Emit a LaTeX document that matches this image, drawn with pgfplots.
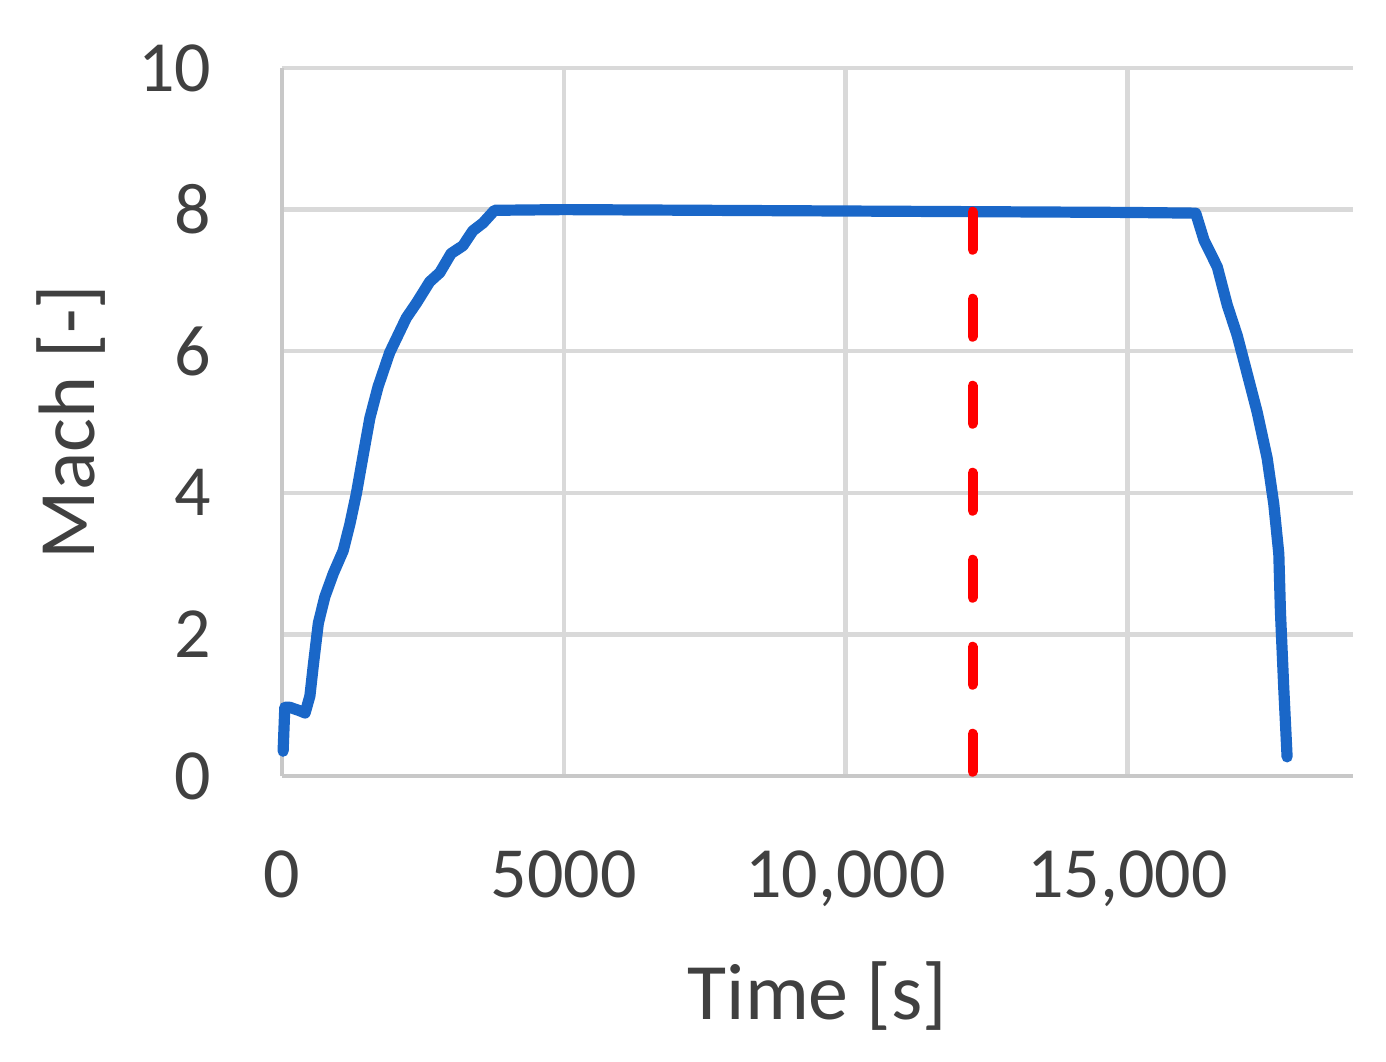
\documentclass[border=0pt]{standalone}
\usepackage{fontspec}
\setmainfont{Carlito}
\usepackage{pgfplots}
\pgfplotsset{compat=1.18}

\definecolor{machblue}{HTML}{1A67C8}
\definecolor{gridgray}{HTML}{D9D9D9}
\definecolor{axisgray}{HTML}{C8C8C8}
\definecolor{labelgray}{HTML}{404040}

\begin{document}
\begin{tikzpicture}
\begin{axis}[
    scale only axis,
    width=267.75pt, height=177pt,
    xmin=0, xmax=19000,
    ymin=0, ymax=10,
    xtick={0,5000,10000,15000},
    xticklabels={0,5000,{10,000},{15,000}},
    ytick={0,2,4,6,8,10},
    yticklabels={0,2,4,6,8,10},
    scaled x ticks=false,
    axis x line*=bottom,
    axis y line*=left,
    axis line style={-, draw=axisgray, line width=1.1pt},
    major tick length=0pt,
    grid=major,
    major grid style={draw=gridgray, line width=1.1pt},
    xticklabel style={font=\fontsize{18}{20}\selectfont, text=labelgray,
        anchor=north, inner sep=0pt, yshift=-18.5pt},
    yticklabel style={font=\fontsize{18}{20}\selectfont, text=labelgray,
        anchor=east, inner sep=0pt, xshift=-17.5pt},
    xlabel={Time [s]},
    ylabel={Mach [-]},
    xlabel style={font=\fontsize{20}{24}\selectfont, text=labelgray,
        at={(axis description cs:0.5,-0.3446)}, anchor=base, inner sep=0pt},
    ylabel style={font=\fontsize{20}{24}\selectfont, text=labelgray,
        at={(axis description cs:-0.1746,0.5)}, anchor=base, inner sep=0pt},
    clip=false,
]
% Mach profile
\addplot[color=machblue, line width=2.8pt, line join=round, line cap=round]
    coordinates {
    (20,0.35) (50,0.97) (140,0.97) (320,0.92) (410,0.89) (495,1.13)
    (555,1.56) (645,2.16) (760,2.53) (910,2.86) (1085,3.18) (1205,3.56)
    (1320,3.99) (1440,4.53) (1560,5.06) (1705,5.50) (1910,5.98)
    (2205,6.47) (2385,6.68) (2620,6.98) (2800,7.11) (3000,7.38)
    (3210,7.49) (3385,7.70) (3565,7.81) (3770,7.99) (5000,8.00)
    (10000,7.98) (15000,7.96) (16210,7.95) (16357,7.57) (16593,7.19)
    (16770,6.65) (16947,6.22) (17124,5.68) (17300,5.14) (17477,4.49)
    (17595,3.84) (17684,3.14) (17713,2.32) (17772,1.24) (17831,0.27)
    };
% marker line
\addplot[color=red, line width=2.5pt, line cap=round,
    dash pattern=on 9.5pt off 12.25pt]
    coordinates {(12250,7.97) (12250,0)};
\end{axis}
\path (-70.5pt,-71.5pt) rectangle (276pt,194pt);
\end{tikzpicture}
\end{document}
